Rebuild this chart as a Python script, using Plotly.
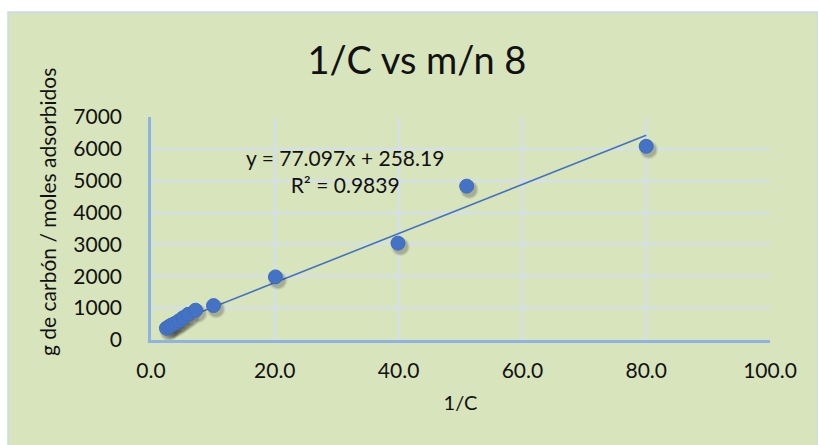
import plotly.graph_objects as go

# Inverse concentration (1/C) and grams of carbon per mole adsorbed (m/n)
inv_c = [2.5, 2.9, 3.3, 3.9, 4.5, 5.2, 6.0, 7.2, 10.1, 20.1, 39.9, 51.0, 80.0]
m_over_n = [370, 420, 470, 525, 600, 700, 805, 935, 1080, 1980, 3040, 4830, 6080]

# Linear trendline reported on the chart
slope = 77.097
intercept = 258.19
r_squared = 0.9839

title_text = "1/C vs m/n 8"
x_title = "1/C"
y_title = "g de carbón / moles adsorbidos"

FONT = "Lato"
GREEN = "#D8E4BC"
GRID = "#D3DEEE"
AXIS = "#8EB4E3"
BLUE = "#4472C4"
TEXT = "#111111"

W, H = 818, 445
ML, MR, MT, MB = 151, 48, 117, 105
plot_w = W - ML - MR
plot_h = H - MT - MB

x_range = [0, 100]
y_range = [0, 7000]

fig = go.Figure()

# trendline across the data span, on the main axes
x_line = [min(inv_c), max(inv_c)]
y_line = [slope * v + intercept for v in x_line]
fig.add_trace(go.Scatter(
    x=x_line, y=y_line, mode="lines",
    line=dict(color=BLUE, width=1.6), showlegend=False,
))

# soft drop shadow under each marker: same points on an overlaid axis pair
# whose range is nudged so the marks land a few pixels right/down
dx_px, dy_px = 2.5, 3.5
x_per_px = (x_range[1] - x_range[0]) / plot_w
y_per_px = (y_range[1] - y_range[0]) / plot_h
for size, alpha in [(19, 0.07), (17, 0.10), (15, 0.14)]:
    fig.add_trace(go.Scatter(
        x=inv_c, y=m_over_n, mode="markers", xaxis="x2", yaxis="y2",
        marker=dict(size=size, color=f"rgba(40,40,40,{alpha})", line=dict(width=0)),
        hoverinfo="skip", showlegend=False,
    ))

# the data points, on a top overlay with the unshifted range
fig.add_trace(go.Scatter(
    x=inv_c, y=m_over_n, mode="markers", xaxis="x3", yaxis="y3",
    marker=dict(size=14, color=BLUE, line=dict(color="#3F6DBE", width=1)),
    showlegend=False,
))

tick_font = dict(family=FONT, size=21, color=TEXT)

fig.update_layout(
    width=W, height=H,
    margin=dict(l=ML, r=MR, t=MT, b=MB, pad=0),
    paper_bgcolor="white",
    plot_bgcolor=GREEN,
    title=dict(text=title_text, x=417 / W, xanchor="center",
               y=1 - 61 / H, yanchor="middle",
               font=dict(family=FONT, size=38, color=TEXT)),
    xaxis=dict(
        range=x_range, dtick=20, tickformat=".1f", tickfont=tick_font,
        showgrid=True, gridcolor=GRID, gridwidth=2,
        showline=True, linecolor=AXIS, linewidth=2.5,
        zeroline=False, ticks="", ticklabelstandoff=10,
        title=dict(text=x_title, font=dict(family=FONT, size=20, color=TEXT), standoff=16),
    ),
    yaxis=dict(
        range=y_range, dtick=1000, tickfont=tick_font,
        showgrid=True, gridcolor=GRID, gridwidth=2,
        showline=True, linecolor=AXIS, linewidth=2.5,
        zeroline=False, ticks="", ticklabelstandoff=22,
    ),
    xaxis2=dict(range=[x_range[0] - dx_px * x_per_px, x_range[1] - dx_px * x_per_px],
                overlaying="x", visible=False),
    yaxis2=dict(range=[y_range[0] + dy_px * y_per_px, y_range[1] + dy_px * y_per_px],
                overlaying="y", visible=False),
    xaxis3=dict(range=x_range, overlaying="x", visible=False),
    yaxis3=dict(range=y_range, overlaying="y", visible=False),
)

# chart area panel with its light blue frame
fig.add_shape(type="rect", xref="paper", yref="paper",
              x0=-ML / plot_w + 8 / plot_w, x1=1 + MR / plot_w,
              y0=-MB / plot_h - 2 / plot_h, y1=1 + (MT - 12) / plot_h,
              fillcolor=GREEN, line=dict(color="#C9D9EE", width=1.5), layer="below")

# vertical axis title
fig.add_annotation(
    xref="paper", yref="paper",
    x=(47 - ML) / plot_w, y=(H - MB - 212) / plot_h,
    xanchor="center", yanchor="middle",
    text=y_title, textangle=-90, showarrow=False,
    font=dict(family=FONT, size=21, color=TEXT),
)

# trendline equation and fit quality
fig.add_annotation(
    xref="paper", yref="paper",
    x=(345 - ML) / plot_w, y=(H - MB - 171) / plot_h,
    xanchor="center", yanchor="middle",
    text=f"y = {slope}x + {intercept}<br>R² = {r_squared}",
    showarrow=False, align="center",
    font=dict(family=FONT, size=21, color=TEXT),
)

fig.write_html("out.html")
